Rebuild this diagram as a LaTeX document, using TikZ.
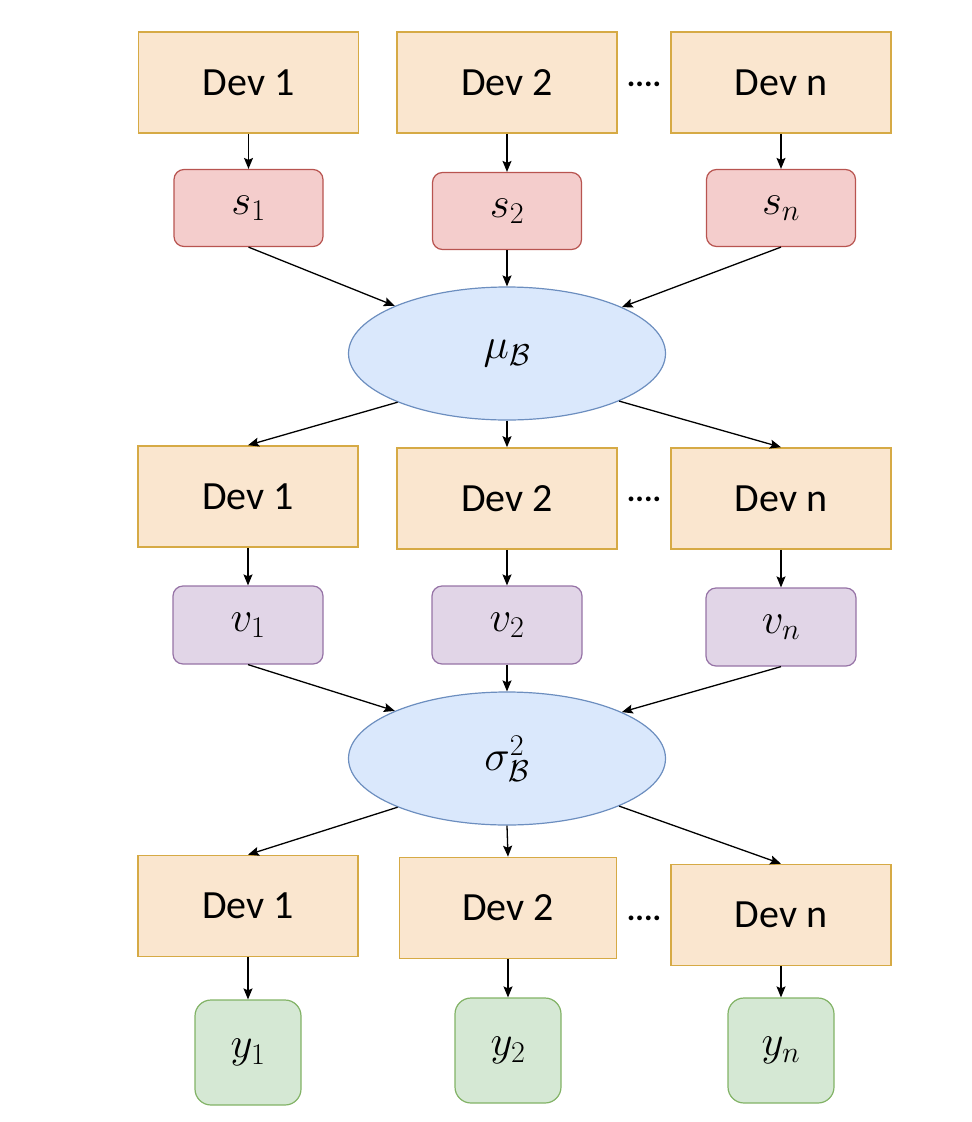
\RequirePackage{fix-cm}
\documentclass[tikz,border=0pt]{standalone}
\usepackage{fontspec}
\setmainfont{Carlito}
\usetikzlibrary{arrows.meta,shapes.geometric}
\definecolor{devfill}{HTML}{FAE6CF}
\definecolor{devdraw}{HTML}{D6AA45}
\definecolor{sfill}{HTML}{F4CDCC}
\definecolor{sdraw}{HTML}{B85450}
\definecolor{efill}{HTML}{DAE8FC}
\definecolor{edraw}{HTML}{6C8EBF}
\definecolor{vfill}{HTML}{E1D5E7}
\definecolor{vdraw}{HTML}{9673A6}
\definecolor{yfill}{HTML}{D5E8D4}
\definecolor{ydraw}{HTML}{82B366}
\tikzset{
  big/.style={font=\fontsize{40}{48}\selectfont},
  mbig/.style={font=\fontsize{43}{50}\selectfont},
  devbox/.style={big, rectangle, draw=devdraw, fill=devfill, line width=1.6pt, minimum width=220pt, minimum height=101pt, inner sep=0pt},
  sbox/.style={mbig, rectangle, rounded corners=10pt, draw=sdraw, fill=sfill, line width=1.2pt, minimum width=149pt, minimum height=77pt, inner sep=0pt},
  vbox/.style={mbig, rectangle, rounded corners=10pt, draw=vdraw, fill=vfill, line width=1.2pt, minimum width=150pt, minimum height=78pt, inner sep=0pt},
  ybox/.style={mbig, rectangle, rounded corners=16pt, draw=ydraw, fill=yfill, line width=1.2pt, minimum width=106pt, minimum height=105pt, inner sep=0pt},
  ebox/.style={mbig, ellipse, draw=edraw, fill=efill, line width=1.2pt, minimum width=317pt, minimum height=133pt, inner sep=0pt},
  dots/.style={font=\fontsize{32}{36}\selectfont\bfseries, anchor=base, inner sep=0pt},
  arr/.style={line width=1.3pt, -{Stealth[length=11pt, width=9pt, inset=2pt]}}
}
\begin{document}
\begin{tikzpicture}[x=1pt, y=-1pt]
\useasboundingbox (0,0) rectangle (972,1122);
% row 1
\node[devbox] (a1) at (248.5,82.5) {Dev 1};
\node[devbox] (a2) at (507,82.5) {Dev 2};
\node[devbox] (an) at (781,82.5) {Dev n};
\node[dots] (d1) at (644,86) {....};
\node[sbox] (s1) at (248.5,208) {$s_1$};
\node[sbox] (s2) at (507,211) {$s_2$};
\node[sbox] (sn) at (781,208) {$s_n$};
\node[ebox] (mu) at (507,353.5) {$\mu_{\mathcal{B}}$};
% row 2
\node[devbox] (b1) at (248,496.5) {Dev 1};
\node[devbox] (b2) at (507,498.5) {Dev 2};
\node[devbox] (bn) at (781,498.5) {Dev n};
\node[dots] (d2) at (644,501) {....};
\node[vbox] (v1) at (248,625) {$v_1$};
\node[vbox] (v2) at (507,625) {$v_2$};
\node[vbox] (vn) at (781,627) {$v_n$};
\node[ebox] (sg) at (507,758.5) {$\sigma_{\mathcal{B}}^2$};
% row 3
\node[devbox] (c1) at (248,906) {Dev 1};
\node[devbox, minimum width=217pt] (c2) at (508,908) {Dev 2};
\node[devbox] (cn) at (781,915) {Dev n};
\node[dots] (d3) at (644,920) {....};
\node[ybox] (y1) at (248,1052.5) {$y_1$};
\node[ybox] (y2) at (508,1050.5) {$y_2$};
\node[ybox] (yn) at (781,1050.5) {$y_n$};
% arrows
\draw[arr] (a1.south) -- (s1.north);
\draw[arr] (a2.south) -- (s2.north);
\draw[arr] (an.south) -- (sn.north);
\draw[arr] (s1.south) -- (mu.157);
\draw[arr] (s2.south) -- (mu.north);
\draw[arr] (sn.south) -- (mu.22);
\draw[arr] (mu.204) -- (b1.north);
\draw[arr] (mu.south) -- (b2.north);
\draw[arr] (mu.-23) -- (bn.north);
\draw[arr] (b1.south) -- (v1.north);
\draw[arr] (b2.south) -- (v2.north);
\draw[arr] (bn.south) -- (vn.north);
\draw[arr] (v1.south) -- (sg.157);
\draw[arr] (v2.south) -- (sg.north);
\draw[arr] (vn.south) -- (sg.22);
\draw[arr] (sg.204) -- (c1.north);
\draw[arr] (sg.south) -- (c2.north);
\draw[arr] (sg.-23) -- (cn.north);
\draw[arr] (c1.south) -- (y1.north);
\draw[arr] (c2.south) -- (y2.north);
\draw[arr] (cn.south) -- (yn.north);
\end{tikzpicture}
\end{document}
